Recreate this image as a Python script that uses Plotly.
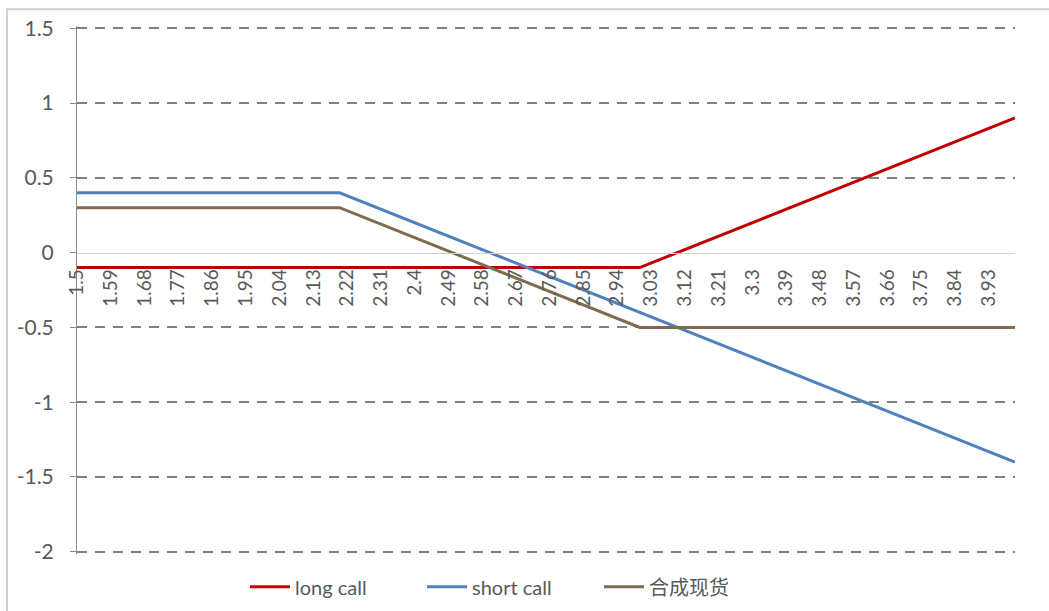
import plotly.graph_objects as go

# breakpoints of each payoff line (price, profit)
long_call_x = [1.5, 3.0, 4.0]
long_call_y = [-0.1, -0.1, 0.9]
short_call_x = [1.5, 2.2, 4.0]
short_call_y = [0.4, 0.4, -1.4]
synthetic_x = [1.5, 2.2, 3.0, 4.0]
synthetic_y = [0.3, 0.3, -0.5, -0.5]

x_ticks = [1.5, 1.59, 1.68, 1.77, 1.86, 1.95, 2.04, 2.13, 2.22, 2.31, 2.4, 2.49,
           2.58, 2.67, 2.76, 2.85, 2.94, 3.03, 3.12, 3.21, 3.3, 3.39, 3.48, 3.57,
           3.66, 3.75, 3.84, 3.93]
y_ticks = [1.5, 1, 0.5, 0, -0.5, -1, -1.5, -2]
y_tick_text = ["1.5", "1", "0.5", "0", "-0.5", "-1", "-1.5", "-2"]

W, H = 1049, 611
L, R, T, B = 77, 1015, 28, 552
FONT = "Lato, 'Noto Sans CJK SC', sans-serif"
GREY = "#595959"

fig = go.Figure()
fig.add_trace(go.Scatter(x=long_call_x, y=long_call_y, mode="lines", name="long call",
                         line=dict(color="#C00000", width=3)))
fig.add_trace(go.Scatter(x=short_call_x, y=short_call_y, mode="lines", name="short call",
                         line=dict(color="#4F81BD", width=3)))
fig.add_trace(go.Scatter(x=synthetic_x, y=synthetic_y, mode="lines", name="合成现货",
                         line=dict(color="#7F6B4E", width=3)))

# pad the value range a little so the grid lines at 1.5 and -2 are drawn
pad = 0.015
y_range = [-2 - pad, 1.5 + pad]
zero_pos = (0 - y_range[0]) / (y_range[1] - y_range[0])
pad_px = pad * (B - T) / 3.5
top, bottom = T - pad_px, B + pad_px


def px_x(p):
    return (p - L) / (R - L)


def px_y(p):
    return (bottom - p) / (bottom - top)


fig.update_layout(
    width=W, height=H,
    margin=dict(l=L, r=W - R, t=top, b=H - bottom, autoexpand=False),
    paper_bgcolor="white", plot_bgcolor="white",
    font=dict(family=FONT, color=GREY),
    showlegend=True,
    legend=dict(orientation="h", x=px_x(245), xanchor="left", y=px_y(587), yanchor="middle",
                font=dict(size=20, color=GREY), itemwidth=40, traceorder="normal",
                entrywidth=122),
    xaxis=dict(range=[1.5, 4.0], tickvals=x_ticks, ticktext=[str(v) for v in x_ticks],
               tickangle=-90, tickfont=dict(size=19, color=GREY),
               anchor="free", position=zero_pos, showgrid=False, zeroline=False,
               showline=True, linecolor="#d0d0d0", linewidth=1, ticks="",
               ticklabelstandoff=8),
    yaxis=dict(range=y_range, tickvals=y_ticks, ticktext=y_tick_text,
               tickfont=dict(size=21, color=GREY),
               showgrid=True, gridcolor="#808080", gridwidth=2, griddash="10px,8px",
               zeroline=True, zerolinecolor="white", zerolinewidth=4,
               showline=True, linecolor="#8c8c8c", linewidth=1,
               ticks="outside", ticklen=6, tickcolor="#8c8c8c",
               ticklabelstandoff=12),
    shapes=[dict(type="rect", xref="paper", yref="paper",
                 x0=px_x(7), x1=px_x(1070), y0=px_y(9), y1=px_y(640),
                 line=dict(color="#d0d0d0", width=2), layer="below")],
)

fig.write_html("out.html", config={"displayModeBar": False},
               post_script="document.body.style.margin='0';")
